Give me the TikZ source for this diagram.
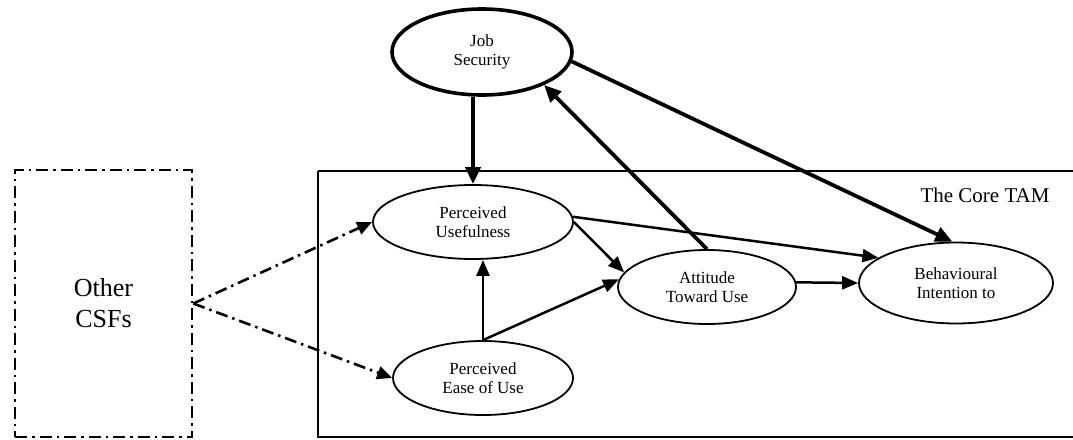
\documentclass[tikz,border=0pt]{standalone}
\usepackage{fontspec}
\setmainfont{Liberation Serif}
\usetikzlibrary{shapes.geometric,arrows.meta}
\begin{document}
\begin{tikzpicture}[x=1pt,y=-1pt,
  oval/.style={ellipse,draw,line width=1.8pt,inner sep=0pt,align=center,
    font=\fontsize{17}{19.5}\selectfont},
  arr/.style={line width=2.5pt,-{Triangle[length=16pt,width=13pt]}},
  thickarr/.style={line width=3.8pt,-{Triangle[length=17pt,width=15pt]}},
  dda/.style={line width=2.6pt,dash pattern=on 12pt off 5pt on 2.5pt off 5pt,
    -{Triangle[length=15pt,width=13pt]}}]
\useasboundingbox (0,0) rectangle (1073,439);
% core TAM frame
\draw[line width=2.2pt] (318,171) -- (1090,171) (318,171) -- (318,437) -- (1090,437);
\node[anchor=east,font=\fontsize{21}{24}\selectfont] (tam) at (1053,195) {The Core TAM};
% other CSFs
\node[draw,line width=2.6pt,dash pattern=on 12pt off 5pt on 2.5pt off 5pt,
  minimum width=177pt,minimum height=267pt,inner sep=0pt,align=center,
  font=\fontsize{26}{31}\selectfont] (csf) at (103.5,303.5) {Other\\CSFs};
% ovals
\node[oval,line width=3.6pt,minimum width=180pt,minimum height=86pt] (js) at (482,52) {Job\\Security};
\node[oval,minimum width=200pt,minimum height=74pt] (pu) at (473,222) {Perceived\\Usefulness};
\node[oval,minimum width=180pt,minimum height=74pt] (peu) at (483,378) {Perceived\\Ease of Use};
\node[oval,minimum width=178pt,minimum height=74pt] (atu) at (707,287) {Attitude\\Toward Use};
\node[oval,minimum width=194pt,minimum height=81pt] (bi) at (956,283) {Behavioural\\Intention to};
% connectors
\draw[thickarr] (pu.north |- js.south) -- (pu.north);
\draw[thickarr] (atu.north) -- (js.-28);
\draw[thickarr] (js.-6) -- (bi.95);
\draw[arr] (pu.east) -- (atu.170);
\draw[arr] (pu.3) -- (bi.162);
\draw[arr] (peu.north) -- (peu.north |- pu.south);
\draw[arr] (peu.north) -- (atu.175);
\draw[arr] (atu.3) -- (bi.west);
\draw[dda] (csf.east) -- (pu.west);
\draw[dda] (csf.east) -- (peu.west);
\end{tikzpicture}
\end{document}
